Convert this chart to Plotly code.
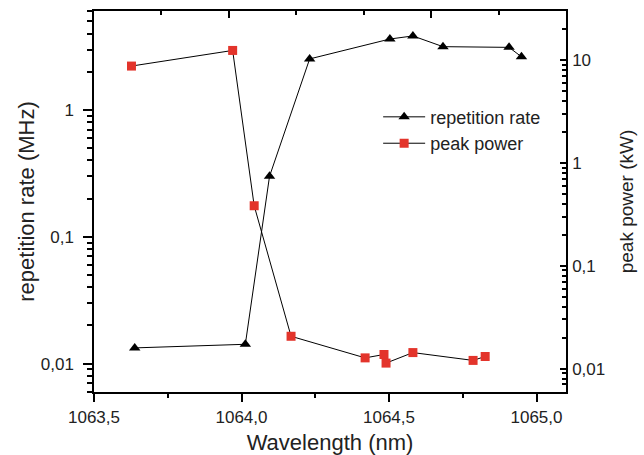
import plotly.graph_objects as go

# ---- data ----
rep_wl = [1063.638, 1064.013, 1064.095, 1064.231, 1064.503, 1064.581, 1064.683, 1064.907, 1064.949]
rep_rate = [0.0133, 0.0142, 0.30, 2.53, 3.63, 3.84, 3.16, 3.12, 2.63]

pk_wl = [1063.627, 1063.970, 1064.043, 1064.168, 1064.419, 1064.483, 1064.490, 1064.581, 1064.785, 1064.826]
pk_power = [8.74, 12.4, 0.383, 0.0206, 0.0127, 0.0137, 0.0113, 0.0143, 0.0120, 0.0131]

x_tickvals = [1063.5, 1064.0, 1064.5, 1065.0]
x_ticktext = ["1063,5", "1064,0", "1064,5", "1065,0"]
yl_tickvals = [0.01, 0.1, 1]
yl_ticktext = ["0,01", "0,1", "1"]
yr_tickvals = [0.01, 0.1, 1, 10]
yr_ticktext = ["0,01", "0,1", "1", "10"]

FONT = "Liberation Sans, Arial, Helvetica, sans-serif"
RED = "#e3342b"
TXT = "#222"

def log_minor(decades):
    return [m * d for d in decades for m in range(2, 10)]

fig = go.Figure()
fig.add_trace(go.Scatter(
    x=rep_wl, y=rep_rate, name="repetition rate", mode="lines+markers",
    line=dict(color="black", width=1),
    marker=dict(symbol="triangle-up", size=10, color="black"),
    yaxis="y", xaxis="x"))
fig.add_trace(go.Scatter(
    x=pk_wl, y=pk_power, name="peak power", mode="lines+markers",
    line=dict(color="black", width=1),
    marker=dict(symbol="square", size=9, color=RED),
    yaxis="y2", xaxis="x"))
# invisible helper trace so the top tick axis is drawn
fig.add_trace(go.Scatter(x=[3.5], y=[1], xaxis="x2", yaxis="y", mode="markers",
                         marker=dict(opacity=0), showlegend=False, hoverinfo="skip"))

fig.update_layout(
    width=644, height=455,
    margin=dict(l=94, r=78, t=11, b=63, autoexpand=False),
    paper_bgcolor="white", plot_bgcolor="white",
    font=dict(family=FONT, size=17, color=TXT),
    showlegend=True,
    legend=dict(x=0.602, y=0.77, xanchor="left", yanchor="top",
                font=dict(size=18, color=TXT), bgcolor="rgba(0,0,0,0)",
                itemwidth=42, tracegroupgap=0),
    xaxis=dict(
        range=[1063.5, 1065.1], showgrid=False, zeroline=False, automargin=False,
        showline=True, linecolor="black", linewidth=1.5, mirror=True,
        ticks="outside", ticklen=8, tickwidth=1.5, tickcolor="black",
        tickvals=x_tickvals, ticktext=x_ticktext, ticklabelstandoff=1,
        minor=dict(ticks="outside", ticklen=4, tickwidth=1.5, tickcolor="black",
                   tickvals=[1063.75, 1064.25, 1064.75], showgrid=False),
        title=dict(text="Wavelength (nm)", font=dict(size=22, color=TXT), standoff=11),
    ),
    xaxis2=dict(
        overlaying="x", side="top", anchor="y", range=[0, 7], showgrid=False, zeroline=False,
        showline=False, showticklabels=False, automargin=False,
        ticks="inside", ticklen=7, tickwidth=1.5, tickcolor="black",
        tickvals=[2, 5],
        minor=dict(ticks="inside", ticklen=4, tickwidth=1.5, tickcolor="black",
                   tickvals=[1, 3, 4, 6], showgrid=False),
    ),
    yaxis=dict(
        type="log", range=[-2.224, 0.781], showgrid=False, zeroline=False, automargin=False,
        showline=True, linecolor="black", linewidth=1.5,
        ticks="outside", ticklen=9, tickwidth=1.5, tickcolor="black",
        tickvals=yl_tickvals, ticktext=yl_ticktext, ticklabelstandoff=6,
        minor=dict(ticks="outside", ticklen=5, tickwidth=1.5, tickcolor="black",
                   tickvals=log_minor([0.001, 0.01, 0.1, 1]), showgrid=False),
        title=dict(text="repetition rate (MHz)", font=dict(size=22, color=TXT), standoff=0),
    ),
    yaxis2=dict(
        type="log", range=[-2.228, 1.477], overlaying="y", side="right",
        showgrid=False, zeroline=False, automargin=False,
        showline=True, linecolor="black", linewidth=1.5,
        ticks="inside", ticklen=6, tickwidth=1.5, tickcolor="black",
        tickvals=yr_tickvals, ticktext=yr_ticktext, ticklabelstandoff=1,
        minor=dict(ticks="inside", ticklen=4, tickwidth=1.5, tickcolor="black",
                   tickvals=log_minor([0.001, 0.01, 0.1, 1, 10]), showgrid=False),
        title=dict(text="peak power (kW)", font=dict(size=19, color=TXT), standoff=15),
    ),
)

fig.write_html("out.html")
